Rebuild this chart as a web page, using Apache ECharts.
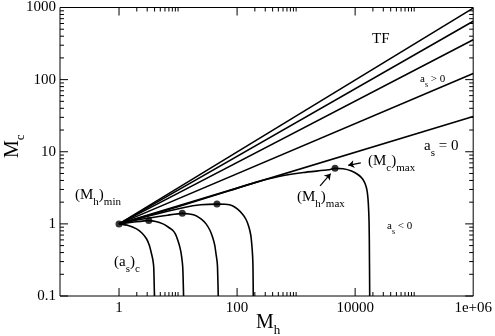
<!DOCTYPE html>
<html>
<head>
<meta charset="utf-8">
<script src="https://cdn.jsdelivr.net/npm/echarts@6/dist/echarts.min.js"></script>
<style>
  html, body { margin: 0; padding: 0; background: #fff; }
  #chart { width: 495px; height: 336px; }
</style>
</head>
<body>
<div id="chart"></div>
<script>
// straight power-law lines (a_s > 0, TF, a_s = 0)
const mhLine = [1, 1000000];
const mcTF = [1, 980];
const mcPos1 = [1, 646];
const mcPos2 = [1, 357];
const mcPos3 = [1, 122];
const mcZero = [1, 30.9];
// a_s < 0 curves
const mhNeg1 = [1, 1.43, 1.98, 2.44, 2.92, 3.26, 3.55, 3.73, 3.87, 3.98];
const mcNeg1 = [1, 0.95, 0.853, 0.747, 0.622, 0.504, 0.386, 0.323, 0.253, 0.1];
const mhNeg2 = [1, 1.78, 3.19, 4.19, 5.55, 6.79, 8.18, 9.08, 9.93, 10.7, 11.3, 12.0, 12.4];
const mcNeg2 = [1, 1.06, 1.11, 1.08, 1.0, 0.904, 0.809, 0.713, 0.589, 0.48, 0.387, 0.253, 0.1];
const mhNeg3 = [1, 2.25, 6.66, 11.8, 15.6, 20.2, 24.8, 29.8, 34.5, 38.5, 41.9, 43.9, 45.6, 46.6, 48.0];
const mcNeg3 = [1, 1.15, 1.32, 1.40, 1.37, 1.30, 1.16, 1.0, 0.822, 0.654, 0.504, 0.387, 0.313, 0.253, 0.1];
const mhNeg4 = [1, 3.32, 12.7, 24.2, 45.6, 62.9, 83.4, 102, 123, 142, 159, 171, 177, 183, 186, 188];
const mcNeg4 = [1, 1.30, 1.69, 1.84, 1.88, 1.87, 1.79, 1.60, 1.37, 1.15, 0.898, 0.690, 0.531, 0.366, 0.253, 0.1];
const mhNeg5 = [1, 10.6, 73, 193, 508, 1337, 3520, 4560, 6290, 8670, 10800, 12800, 14300, 15500,
  16200, 16740, 17200, 17390, 17660];
const mcNeg5 = [1, 1.76, 2.87, 3.70, 4.54, 5.16, 5.62, 5.89, 5.80, 5.41, 4.92, 4.38, 3.82, 3.19,
  2.61, 1.90, 1.11, 0.589, 0.1];
// marked points: (Mh)min and maxima
const mhDots = [1, 3.19, 11.8, 45.6, 4560];
const mcDots = [1, 1.11, 1.40, 1.88, 5.89];

// ticks
const xTickValues = [1, 100, 10000, 1000000];
const xTickLabels = ['1', '100', '10000', '1e+06'];
const xMinorTicks = [2, 3, 4, 5, 6, 7, 8, 9, 10, 200, 300, 400, 500, 600, 700, 800, 900, 1000,
  20000, 30000, 40000, 50000, 60000, 70000, 80000, 90000, 100000];
const yTickValues = [0.1, 1, 10, 100, 1000];
const yTickLabels = ['0.1', '1', '10', '100', '1000'];
const yMinorTicks = [0.2, 0.3, 0.4, 0.5, 0.6, 0.7, 0.8, 0.9, 2, 3, 4, 5, 6, 7, 8, 9,
  20, 30, 40, 50, 60, 70, 80, 90, 200, 300, 400, 500, 600, 700, 800, 900];

const FONT = 'Liberation Serif';
const zip = (xs, ys) => xs.map((x, i) => [x, ys[i]]);
const pick = (vals, labels) => v => {
  const i = vals.findIndex(t => Math.abs(v - t) / t < 1e-6);
  return i < 0 ? '' : labels[i];
};

const chart = echarts.init(document.getElementById('chart'));

const lineStyle = { color: '#000', width: 1.6 };
function curve(xs, ys, smooth) {
  return {
    type: 'line', data: zip(xs, ys), showSymbol: false, smooth: smooth || false,
    lineStyle: lineStyle, silent: true, z: 3
  };
}

function tickSeries(items, isX) {
  return {
    type: 'custom', silent: true, z: 5,
    data: items,
    renderItem: function (params, api) {
      const v = api.value(0), len = api.value(1);
      let a, b;
      const st = { stroke: '#000', lineWidth: 1 };
      if (isX) {
        a = api.coord([v, 0.1]); b = api.coord([v, 1000]);
        return { type: 'group', children: [
          { type: 'line', shape: { x1: a[0], y1: a[1], x2: a[0], y2: a[1] - len }, style: st },
          { type: 'line', shape: { x1: b[0], y1: b[1], x2: b[0], y2: b[1] + len }, style: st }
        ] };
      }
      a = api.coord([0.1, v]); b = api.coord([1000000, v]);
      return { type: 'group', children: [
        { type: 'line', shape: { x1: a[0], y1: a[1], x2: a[0] + len, y2: a[1] }, style: st },
        { type: 'line', shape: { x1: b[0], y1: b[1], x2: b[0] - len, y2: b[1] }, style: st }
      ] };
    }
  };
}

const rich = {
  n: { fontFamily: FONT, fontSize: 15, lineHeight: 16, verticalAlign: 'top', color: '#000' },
  s: { fontFamily: FONT, fontSize: 11, lineHeight: 11, padding: [9, 0, 0, 0], verticalAlign: 'top', color: '#000' },
  sn: { fontFamily: FONT, fontSize: 11, lineHeight: 12, verticalAlign: 'top', color: '#000' },
  ss: { fontFamily: FONT, fontSize: 8, lineHeight: 8, padding: [7, 0, 0, 0], verticalAlign: 'top', color: '#000' },
  big: { fontFamily: FONT, fontSize: 20, lineHeight: 20, verticalAlign: 'top', color: '#000' },
  bs: { fontFamily: FONT, fontSize: 13, lineHeight: 13, padding: [11, 0, 0, 0], verticalAlign: 'top', color: '#000' }
};
function label(x, y, text, extra) {
  return Object.assign({ type: 'text', x: x, y: y, silent: true, z: 10,
    style: { text: text, rich: rich, fill: '#000' } }, extra || {});
}

chart.setOption({
  animation: false,
  backgroundColor: '#fff',
  grid: { left: 60, right: 19, top: 5, bottom: 40, show: true, borderColor: '#000', borderWidth: 1 },
  xAxis: {
    type: 'log', logBase: 10, min: 0.1, max: 1000000, splitNumber: 7,
    axisLine: { show: false }, axisTick: { show: false }, splitLine: { show: false },
    axisLabel: { formatter: pick(xTickValues, xTickLabels), fontFamily: FONT, fontSize: 15,
      color: '#000', margin: 5, showMaxLabel: true, showMinLabel: true, hideOverlap: false }
  },
  yAxis: {
    type: 'log', logBase: 10, min: 0.1, max: 1000, splitNumber: 4,
    axisLine: { show: false }, axisTick: { show: false }, splitLine: { show: false },
    axisLabel: { formatter: pick(yTickValues, yTickLabels), fontFamily: FONT, fontSize: 15,
      color: '#000', margin: 4, showMaxLabel: true, showMinLabel: true }
  },
  series: [
    curve(mhLine, mcTF),
    curve(mhLine, mcPos1),
    curve(mhLine, mcPos2),
    curve(mhLine, mcPos3),
    curve(mhLine, mcZero),
    curve(mhNeg1, mcNeg1, 0.2),
    curve(mhNeg2, mcNeg2, 0.2),
    curve(mhNeg3, mcNeg3, 0.2),
    curve(mhNeg4, mcNeg4, 0.2),
    curve(mhNeg5, mcNeg5, 0.2),
    {
      type: 'scatter', data: zip(mhDots, mcDots), symbolSize: 7,
      itemStyle: { color: '#000' }, silent: true, z: 6,
      markLine: {
        silent: true, symbol: ['none', 'arrow'], symbolSize: 6,
        label: { show: false },
        lineStyle: { color: '#000', width: 1.2, type: 'solid' },
        data: [
          [{ coord: [2550, 3.36] }, { coord: [3846, 4.97] }],
          [{ coord: [12470, 7.03] }, { coord: [7630, 6.48] }]
        ]
      }
    },
    tickSeries(xTickValues.slice(0, 3).map(v => [v, 8]).concat(xMinorTicks.map(v => [v, 4])), true),
    tickSeries(yTickValues.map(v => [v, 8]).concat(yMinorTicks.map(v => [v, 4])), false)
  ],
  graphic: [
    label(372, 32, '{n|TF}'),
    label(420, 74, '{sn|a}{ss|s}{sn| > 0}'),
    label(424, 139, '{n|a}{s|s}{n| = 0}'),
    label(387, 221, '{sn|a}{ss|s}{sn| < 0}'),
    label(75, 188, '{n|(M}{s|h}{n|)}{s|min}'),
    label(114, 255, '{n|(a}{s|s}{n|)}{s|c}'),
    label(297, 190, '{n|(M}{s|h}{n|)}{s|max}'),
    label(368, 154, '{n|(M}{s|c}{n|)}{s|max}'),
    label(256, 313, '{big|M}{bs|h}'),
    label(3, 158, '{big|M}{bs|c}', { rotation: Math.PI / 2 })
  ]
});
</script>
</body>
</html>
